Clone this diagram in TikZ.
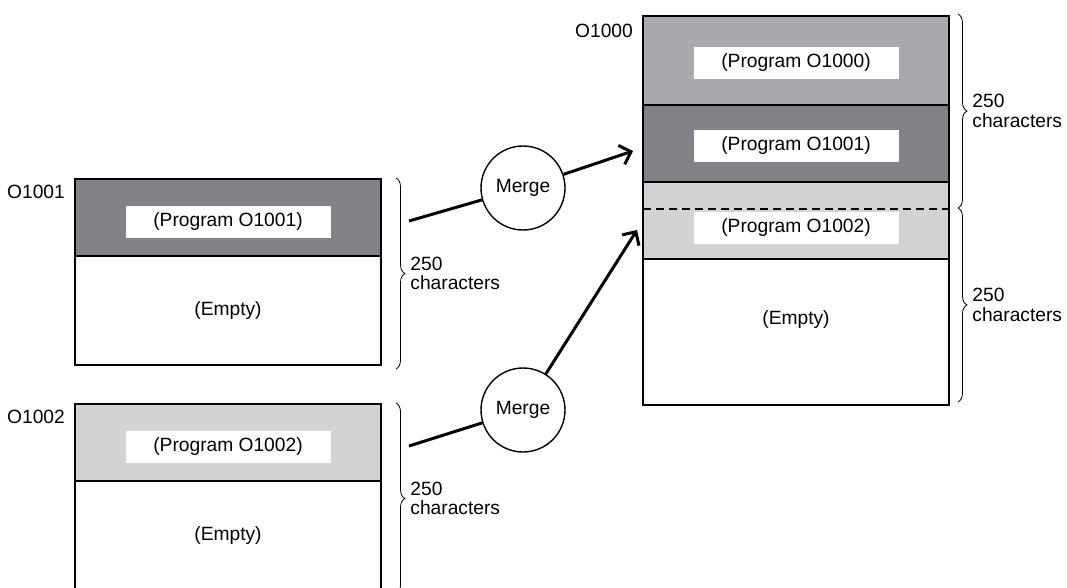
\documentclass[tikz,border=0pt]{standalone}
\usepackage{fontspec}
\setmainfont{Liberation Sans}
\usetikzlibrary{arrows.meta,decorations.pathreplacing}

\definecolor{prog1000}{HTML}{A7A9AC}
\definecolor{prog1001}{HTML}{808285}
\definecolor{prog1002}{HTML}{D1D3D4}

\begin{document}
\begin{tikzpicture}[x=1pt, y=-1pt,
        font=\fontsize{19.2}{19.5}\selectfont,
        area/.style={draw, line width=1.8pt, anchor=north west, inner sep=0pt, outer sep=0pt, minimum width=306pt},
        tag/.style={fill=white, minimum width=205pt, minimum height=32pt, inner sep=0pt},
        progname/.style={anchor=north east, inner sep=0pt},
        merge/.style={circle, draw, fill=white, line width=1.4pt, minimum size=84pt, inner sep=0pt},
        flow/.style={line width=3pt, -{Straight Barb[length=10pt, width=20pt]}},
        span/.style={decorate, decoration={brace, amplitude=9pt}, line width=0.8pt},
        count/.style={align=left, anchor=west, inner sep=0pt, xshift=14pt}
    ]
    \useasboundingbox (0,0) rectangle (1067,588);

    % Source programs, each one 250 characters long
    \foreach \prog/\ytop in {1001/179, 1002/404} {
            \node[area, fill=prog\prog, minimum height=77pt] (p\prog) at (75,\ytop) {};
            \node[area, minimum height=109pt] (e\prog) at (p\prog.south west) {(Empty)};
            \node[tag] (t\prog) at ([yshift=-4.5pt]p\prog.center) {(Program O\prog)};
            \node[progname] (n\prog) at ([xshift=-10pt, yshift=-6pt]p\prog.north west) {O\prog};
            \draw[span] (396,\ytop-1) -- (396,\ytop+190) node[count, midway] (c\prog) {250\\characters};
        }

    % Merge steps
    \node[merge] (m1001) at (523,188) {Merge};
    \node[merge] (m1002) at (523,410) {Merge};

    % Merged program area
    \node[area, fill=prog1000, minimum height=89pt] (p1000) at (643,16) {};
    \node[area, fill=prog1001, minimum height=77pt] (q1001) at (p1000.south west) {};
    \node[area, fill=prog1002, minimum height=77pt] (q1002) at (q1001.south west) {};
    \node[area, minimum height=146pt] (e1000) at (q1002.south west) {};
    \node (x1000) at ([yshift=12pt]e1000.center) {(Empty)};
    \node[progname] (n1000) at ([xshift=-10pt, yshift=-8pt]p1000.north west) {O1000};

    \node[tag] (t1000) at ([yshift=-2.5pt]p1000.center) {(Program O1000)};
    \node[tag] (u1001) at ([yshift=-2.5pt]q1001.center) {(Program O1001)};
    \node[tag] (u1002) at ([yshift=-7.5pt]q1002.center) {(Program O1002)};

    % boundary between the two 250 character blocks
    \draw[dash pattern=on 8pt off 5pt, line width=1.8pt]
        ([yshift=-27pt]q1002.north west) -- ([yshift=-27pt]q1002.north east);

    \draw[span] (958,14) -- (958,208) node[count, midway] (c1000a) {250\\characters};
    \draw[span] (958,208) -- (958,402) node[count, midway] (c1000b) {250\\characters};

    % Arrows into the merged area
    \coordinate (s1001) at (409,221);
    \coordinate (d1001) at (633,151);
    \coordinate (s1002) at (409,446);
    \coordinate (d1002) at (637,230);
    \draw[flow] (s1001) -- (m1001) -- (d1001);
    \draw[flow] (s1002) -- (m1002) -- (d1002);
\end{tikzpicture}
\end{document}
